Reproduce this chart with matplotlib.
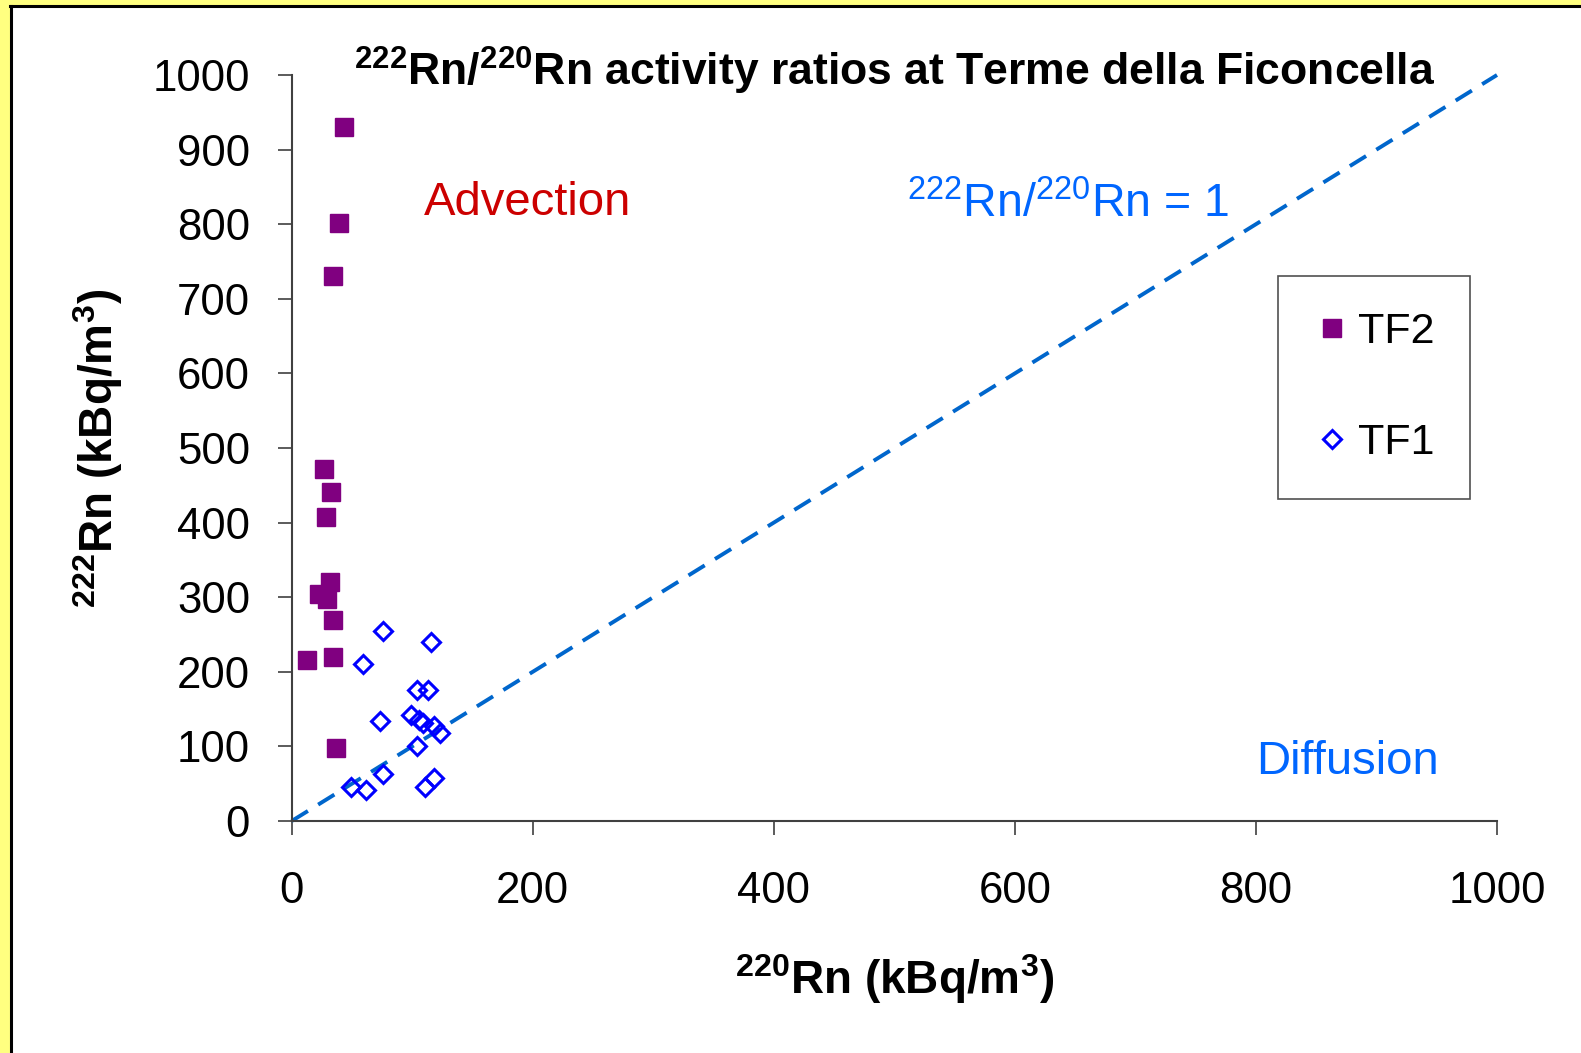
import matplotlib
matplotlib.use("Agg")
import matplotlib.pyplot as plt
from matplotlib.lines import Line2D
from matplotlib.patches import Rectangle

plt.rcParams['font.family'] = ['Liberation Sans', 'DejaVu Sans']
plt.rcParams['mathtext.fontset'] = 'custom'
plt.rcParams['mathtext.rm'] = 'Liberation Sans'
plt.rcParams['mathtext.bf'] = 'Liberation Sans:bold'
plt.rcParams['mathtext.default'] = 'regular'

# ---- data ----
tf2_x = [27, 33, 28.5, 31.8, 23, 29.5, 34, 34, 13, 36.5, 43.6, 39, 34]
tf2_y = [472, 441, 407, 320, 304, 297, 270, 220, 216, 98, 930, 802, 730]

tf1_x = [75.5, 115.5, 59, 103.7, 112.8, 73, 99, 105.6, 108.6, 118, 123, 103.7, 75.5, 49, 61.6, 118, 110.6]
tf1_y = [255, 240, 210, 176, 176, 134, 142, 136, 131, 127, 118, 100, 63, 46, 41.5, 58, 46]

line_x = [0, 1000]
line_y = [0, 1000]

xticks = [0, 200, 400, 600, 800, 1000]
yticks = [0, 100, 200, 300, 400, 500, 600, 700, 800, 900, 1000]

W, H = 1581, 1053
fig = plt.figure(figsize=(W / 100, H / 100), dpi=100, facecolor='#FFFF80')

# white panel with black left/top border
fig.patches.append(Rectangle((10 / W, 0), 1 - 10 / W, (H - 6) / H, transform=fig.transFigure,
                             facecolor='white', edgecolor='none', zorder=-10))
fig.lines.append(Line2D([10.5 / W, 10.5 / W], [0, (H - 6) / H], transform=fig.transFigure,
                        color='black', lw=2.2, zorder=-5))
fig.lines.append(Line2D([10 / W, 1], [(H - 6) / H, (H - 6) / H], transform=fig.transFigure,
                        color='black', lw=2.2, zorder=-5))

ax_left = 291.7 / W
ax_right = 1497 / W
ax_bottom = (H - 821) / H
ax_top = (H - 75) / H
ax = fig.add_axes([ax_left, ax_bottom, ax_right - ax_left, ax_top - ax_bottom])
ax.set_zorder(5)
ax.set_facecolor('none')

ax.plot(line_x, line_y, color='#0066CC', lw=2.8, dashes=(4.9, 3.1), zorder=2, clip_on=False)

ax.plot(tf2_x, tf2_y, linestyle='none', marker='s', markersize=12.5,
        markerfacecolor='#800080', markeredgecolor='#800080', label='TF2', zorder=3)
ax.plot(tf1_x, tf1_y, linestyle='none', marker='D', markersize=9,
        markerfacecolor='none', markeredgecolor='#0000FF', markeredgewidth=2.2,
        label='TF1', zorder=3)

ax.set_xlim(0, 1000)
ax.set_ylim(0, 1000)
ax.set_xticks(xticks)
ax.set_yticks(yticks)
ax.tick_params(axis='x', direction='out', length=10, width=1.2, color='#404040',
               labelsize=31.5, pad=26)
ax.tick_params(axis='y', direction='out', length=10, width=1.2, color='#404040',
               labelsize=31.5, pad=20)
for s in ['top', 'right']:
    ax.spines[s].set_visible(False)
for s in ['left', 'bottom']:
    ax.spines[s].set_color('#404040')
    ax.spines[s].set_linewidth(1.5)

ax.set_xlabel(r'$^{220}$Rn (kBq/m$^{3}$)', fontsize=33, fontweight='bold', labelpad=29)
ax.set_ylabel(r'$^{222}$Rn (kBq/m$^{3}$)', fontsize=33, fontweight='bold', labelpad=20)

ax.text(500, 1006, r'$^{222}$Rn/$^{220}$Rn activity ratios at Terme della Ficoncella',
        fontsize=32, fontweight='bold', ha='center', va='center')
ax.text(196, 829, 'Advection', color='#CC0000', fontsize=34, ha='center', va='center')
ax.text(644, 826, r'$^{222}$Rn/$^{220}$Rn = 1', color='#0066FF', fontsize=33.5,
        ha='center', va='center')
ax.text(876, 79, 'Diffusion', color='#0066FF', fontsize=34, ha='center', va='center')

leg = ax.legend(loc='upper left', bbox_to_anchor=(0.8183, 0.7306), fontsize=31,
                frameon=True, fancybox=False, framealpha=1, edgecolor='#505050',
                labelspacing=1.65, handletextpad=0.19, borderpad=0.84,
                handlelength=0.82, markerscale=1.0, borderaxespad=0)
leg.get_frame().set_linewidth(1.2)

fig.savefig('out.png', dpi=100, facecolor=fig.get_facecolor())
